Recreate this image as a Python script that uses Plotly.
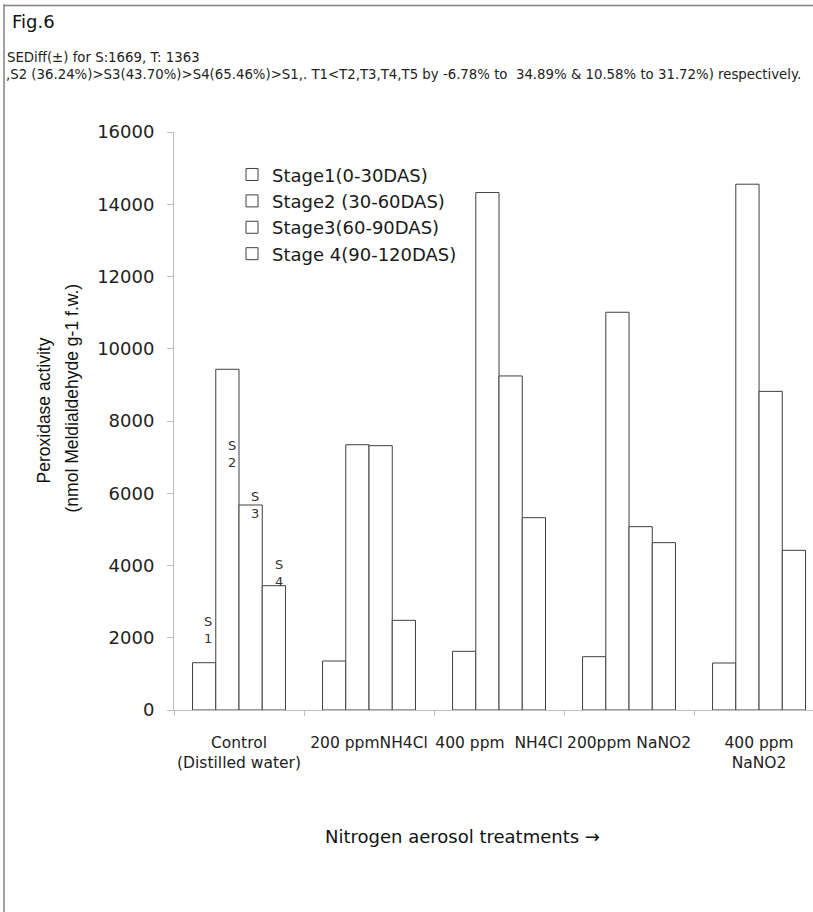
import plotly.graph_objects as go

categories = ["Control<br>(Distilled water)", "200 ppmNH4Cl", "400 ppm  NH4Cl",
              "200ppm NaNO2", "400 ppm<br>NaNO2"]
stage_names = ["Stage1(0-30DAS)", "Stage2 (30-60DAS)", "Stage3(60-90DAS)", "Stage 4(90-120DAS)"]
stage1 = [1309, 1356, 1624, 1476, 1301]
stage2 = [9432, 7343, 14324, 11010, 14555]
stage3 = [5675, 7317, 9247, 5075, 8820]
stage4 = [3441, 2482, 5324, 4632, 4420]
y_ticks = [0, 2000, 4000, 6000, 8000, 10000, 12000, 14000, 16000]

s_labels = ["S<br>1", "S<br>2", "S<br>3", "S<br>4"]
s_label_x = [-0.241, -0.054, 0.123, 0.305]
s_label_y = [2224, 7086, 5687, 3789]

FONT = "DejaVu Sans"
EDGE = "#404040"
AXIS = "#bfbfbf"

fig = go.Figure()
for name, vals in zip(stage_names, [stage1, stage2, stage3, stage4]):
    fig.add_trace(go.Bar(
        x=categories, y=vals, name=name,
        marker=dict(color="white", line=dict(color=EDGE, width=1)),
    ))

annotations = []
for t, xv, yv in zip(s_labels, s_label_x, s_label_y):
    annotations.append(dict(x=xv, y=yv, xref="x", yref="y", text=t, showarrow=False,
                            font=dict(family=FONT, size=13, color="#333333"),
                            xanchor="center", yanchor="middle"))

annotations += [
    dict(x=-0.2566, y=1.1912, xref="paper", yref="paper", text="Fig.6", showarrow=False,
         xanchor="left", yanchor="middle", font=dict(family=FONT, size=18, color="#111111")),
    dict(x=-0.2645, y=1.1288, xref="paper", yref="paper", text="SEDiff(±) for S:1669, T: 1363",
         showarrow=False, xanchor="left", yanchor="middle",
         font=dict(family=FONT, size=13.3, color="#222222")),
    dict(x=-0.2660, y=1.0994, xref="paper", yref="paper",
         text=",S2 (36.24%)>S3(43.70%)>S4(65.46%)>S1,. T1<T2,T3,T4,T5 by -6.78% to  34.89% &amp; 10.58% to 31.72%) respectively.",
         showarrow=False, xanchor="left", yanchor="middle",
         font=dict(family=FONT, size=13.3, color="#222222")),
    dict(x=-0.2034, y=0.5183, xref="paper", yref="paper",
         text="Peroxidase activity", textangle=-90,
         showarrow=False, xanchor="center", yanchor="middle",
         font=dict(family="Liberation Sans", size=17.5, color="#111111")),
    dict(x=-0.1596, y=0.5390, xref="paper", yref="paper",
         text="(nmol Meldialdehyde g-1 f.w.)", textangle=-90,
         showarrow=False, xanchor="center", yanchor="middle",
         font=dict(family="Liberation Sans", size=17.5, color="#111111")),
    dict(x=0.452, y=-0.2186, xref="paper", yref="paper", text="Nitrogen aerosol treatments →",
         showarrow=False, xanchor="center", yanchor="middle",
         font=dict(family=FONT, size=18, color="#111111")),
]

shapes = [
    dict(type="line", xref="paper", yref="paper", x0=-0.266, x1=-0.266, y0=1.221, y1=-0.36,
         line=dict(color="#808080", width=1.5)),
    dict(type="line", xref="paper", yref="paper", x0=-0.266, x1=1.05, y0=1.219, y1=1.219,
         line=dict(color="#808080", width=1.5)),
]

fig.update_layout(
    width=813, height=912, autosize=False,
    margin=dict(l=174, r=0, t=132, b=202, pad=0),
    paper_bgcolor="white", plot_bgcolor="white",
    barmode="group", bargap=0.285, bargroupgap=0,
    font=dict(family=FONT, color="#222222"),
    showlegend=True,
    legend=dict(x=0.0908, y=0.958, xanchor="left", yanchor="top",
                bgcolor="rgba(0,0,0,0)", font=dict(family=FONT, size=18, color="#1a1a1a"),
                itemwidth=30, tracegroupgap=0),
    annotations=annotations,
    shapes=shapes,
)
fig.update_xaxes(
    type="category", range=[-0.5, 4.415], showgrid=False, showline=True, linecolor=AXIS,
    linewidth=1, ticks="outside", tickson="boundaries", ticklen=5, tickcolor=AXIS,
    tickangle=0,
    tickfont=dict(family=FONT, size=15.5, color="#222222"), ticklabelstandoff=18,
)
fig.update_yaxes(
    range=[0, 16000], tickvals=y_ticks, tickformat="d", showgrid=False, zeroline=False,
    showline=True, linecolor=AXIS, linewidth=1, ticks="outside", ticklen=6, tickcolor=AXIS,
    tickfont=dict(family=FONT, size=18, color="#222222"), ticklabelstandoff=9,
)

fig.write_html("out.html", config={"displayModeBar": False},
               post_script="document.body.style.margin='0px';document.body.style.overflow='hidden';")
